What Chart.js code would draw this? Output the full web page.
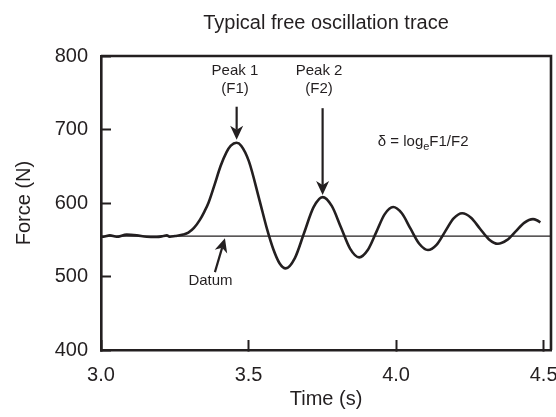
<!DOCTYPE html>
<html>
<head>
<meta charset="utf-8">
<script src="https://cdn.jsdelivr.net/npm/chart.js@4/dist/chart.umd.min.js"></script>
<style>
  html, body { margin: 0; padding: 0; background: #fff; }
  #wrap { width: 556px; height: 417px; }
</style>
</head>
<body>
<div id="wrap"><canvas id="grafico"></canvas></div>
<script>
// Datos
const tiempos = [3.000, 3.008, 3.030, 3.053, 3.087, 3.121, 3.155, 3.189, 3.211, 3.223, 3.234, 3.251,
  3.279, 3.296, 3.315, 3.335, 3.350, 3.364, 3.385, 3.405, 3.425, 3.440, 3.459, 3.475, 3.501,
  3.537, 3.563, 3.584, 3.605, 3.626, 3.657, 3.6885, 3.720, 3.751, 3.782, 3.813, 3.844,
  3.875, 3.904, 3.9325, 3.961, 3.990, 4.0195, 4.049, 4.0785, 4.108, 4.137, 4.166, 4.195,
  4.224, 4.254, 4.2845, 4.315, 4.345, 4.375, 4.4045, 4.434, 4.464, 4.477, 4.489];
const fuerzas = [554, 554, 556, 554, 557, 556, 554, 553.7, 555, 556, 554, 555,
  557, 559.6, 566, 577, 588, 600, 625, 650, 669, 678, 682, 678, 657,
  604, 564, 537, 518, 511, 525, 559.5, 594, 608, 596, 567, 538,
  526, 536, 560, 584.5, 594.5, 586, 565, 544.5, 536, 543, 561, 579,
  586, 580, 565, 550.5, 544.5, 549.4, 561, 573, 578, 576.5, 573.5];

const datumTiempos = [3.0, 4.525];
const datumFuerza = 555;

const ticksX = [3.0, 3.5, 4.0, 4.5];
const ticksY = [400, 500, 600, 700, 800];

// Anotaciones (en unidades de datos)
const etiquetasPico = [
  { lineas: ["Peak 1", "(F1)"], x: 3.454, y: 774 },
  { lineas: ["Peak 2", "(F2)"], x: 3.739, y: 774 }
];
const flechas = [
  { x1: 3.4597, y1: 731, x2: 3.4597, y2: 686 },
  { x1: 3.751, y1: 729, x2: 3.751, y2: 611 },
  { x1: 3.386, y1: 506, x2: 3.420, y2: 552 }
];
const etiquetaDatum = { texto: "Datum", x: 3.371, y: 488.5 };
const formula = { x: 3.938, y: 678 };

const tinta = "#231f20";
const familia = "'Liberation Sans', Arial, Helvetica, sans-serif";

function punta(ctx, x1, y1, x2, y2) {
  const ang = Math.atan2(y2 - y1, x2 - x1);
  ctx.save();
  ctx.translate(x2, y2);
  ctx.rotate(ang);
  ctx.beginPath();
  ctx.moveTo(0, 0);
  ctx.lineTo(-14, -6.5);
  ctx.lineTo(-10, 0);
  ctx.lineTo(-14, 6.5);
  ctx.closePath();
  ctx.fill();
  ctx.restore();
}

const anotaciones = {
  id: "anotaciones",
  afterDatasetsDraw(chart) {
    const { ctx, chartArea, scales: { x, y } } = chart;
    ctx.save();
    ctx.fillStyle = tinta;
    ctx.strokeStyle = tinta;

    // marco superior y derecho
    ctx.lineWidth = 2.6;
    ctx.beginPath();
    ctx.moveTo(chartArea.left, chartArea.top);
    ctx.lineTo(chartArea.right, chartArea.top);
    ctx.lineTo(chartArea.right, chartArea.bottom);
    ctx.stroke();

    ctx.font = "15px " + familia;
    ctx.textAlign = "center";
    ctx.textBaseline = "alphabetic";
    etiquetasPico.forEach(e => {
      const px = x.getPixelForValue(e.x);
      const py = y.getPixelForValue(e.y);
      e.lineas.forEach((l, i) => ctx.fillText(l, px, py + i * 18.3));
    });
    ctx.fillText(etiquetaDatum.texto, x.getPixelForValue(etiquetaDatum.x), y.getPixelForValue(etiquetaDatum.y));

    // fórmula del decremento
    let fx = x.getPixelForValue(formula.x);
    const fy = y.getPixelForValue(formula.y);
    ctx.textAlign = "left";
    const partes = [["δ = log", 15, 0], ["e", 11, 4], ["F1/F2", 15, 0]];
    partes.forEach(([t, s, d]) => {
      ctx.font = s + "px " + familia;
      ctx.fillText(t, fx, fy + d);
      fx += ctx.measureText(t).width;
    });

    ctx.lineWidth = 2.2;
    flechas.forEach(f => {
      const x1 = x.getPixelForValue(f.x1), y1 = y.getPixelForValue(f.y1);
      const x2 = x.getPixelForValue(f.x2), y2 = y.getPixelForValue(f.y2);
      const ang = Math.atan2(y2 - y1, x2 - x1);
      ctx.beginPath();
      ctx.moveTo(x1, y1);
      ctx.lineTo(x2 - 10 * Math.cos(ang), y2 - 10 * Math.sin(ang));
      ctx.stroke();
      punta(ctx, x1, y1, x2, y2);
    });
    ctx.restore();
  }
};

new Chart(document.getElementById("grafico"), {
  type: "line",
  data: {
    datasets: [
      {
        label: "Datum",
        data: datumTiempos.map(t => ({ x: t, y: datumFuerza })),
        borderColor: tinta,
        borderWidth: 1.3,
        pointRadius: 0,
        fill: false
      },
      {
        label: "Force",
        data: tiempos.map((t, i) => ({ x: t, y: fuerzas[i] })),
        borderColor: tinta,
        borderWidth: 2.6,
        pointRadius: 0,
        fill: false,
        cubicInterpolationMode: "monotone"
      }
    ]
  },
  options: {
    responsive: true,
    maintainAspectRatio: false,
    animation: false,
    layout: { padding: { left: 0, right: 5, top: 0, bottom: 0 } },
    plugins: {
      legend: { display: false },
      tooltip: { enabled: false },
      title: {
        display: true,
        fullSize: false,
        text: "Typical free oscillation trace",
        color: tinta,
        font: { family: familia, size: 20, weight: "normal" },
        padding: { top: 11, bottom: 21 }
      }
    },
    scales: {
      x: {
        type: "linear",
        min: 3.0,
        max: 4.525,
        afterFit: s => { s.height = 67; s.paddingLeft = 0; s.paddingRight = 0; },
        afterBuildTicks: s => { s.ticks = ticksX.map(v => ({ value: v })); },
        ticks: {
          color: tinta,
          font: { family: familia, size: 20 },
          padding: 23,
          maxRotation: 0,
          callback: v => v.toFixed(1)
        },
        grid: { drawOnChartArea: false, tickLength: -10, tickWidth: 2, tickColor: tinta },
        border: { display: true, color: tinta, width: 2.6 },
        title: {
          display: true,
          text: "Time (s)",
          color: tinta,
          font: { family: familia, size: 20 },
          padding: { top: 0, bottom: 6 }
        }
      },
      y: {
        type: "linear",
        min: 400,
        max: 800,
        afterFit: s => { s.width = 101; s.paddingTop = 0; s.paddingBottom = 0; },
        afterBuildTicks: s => { s.ticks = ticksY.map(v => ({ value: v })); },
        ticks: {
          color: tinta,
          font: { family: familia, size: 20 },
          padding: 23,
          callback: v => String(v)
        },
        grid: { drawOnChartArea: false, tickLength: -10, tickWidth: 2, tickColor: tinta },
        border: { display: true, color: tinta, width: 2.6 },
        title: {
          display: true,
          text: "Force (N)",
          color: tinta,
          font: { family: familia, size: 20 },
          padding: { top: 12, bottom: 0 }
        }
      }
    }
  },
  plugins: [anotaciones]
});
</script>
</body>
</html>
